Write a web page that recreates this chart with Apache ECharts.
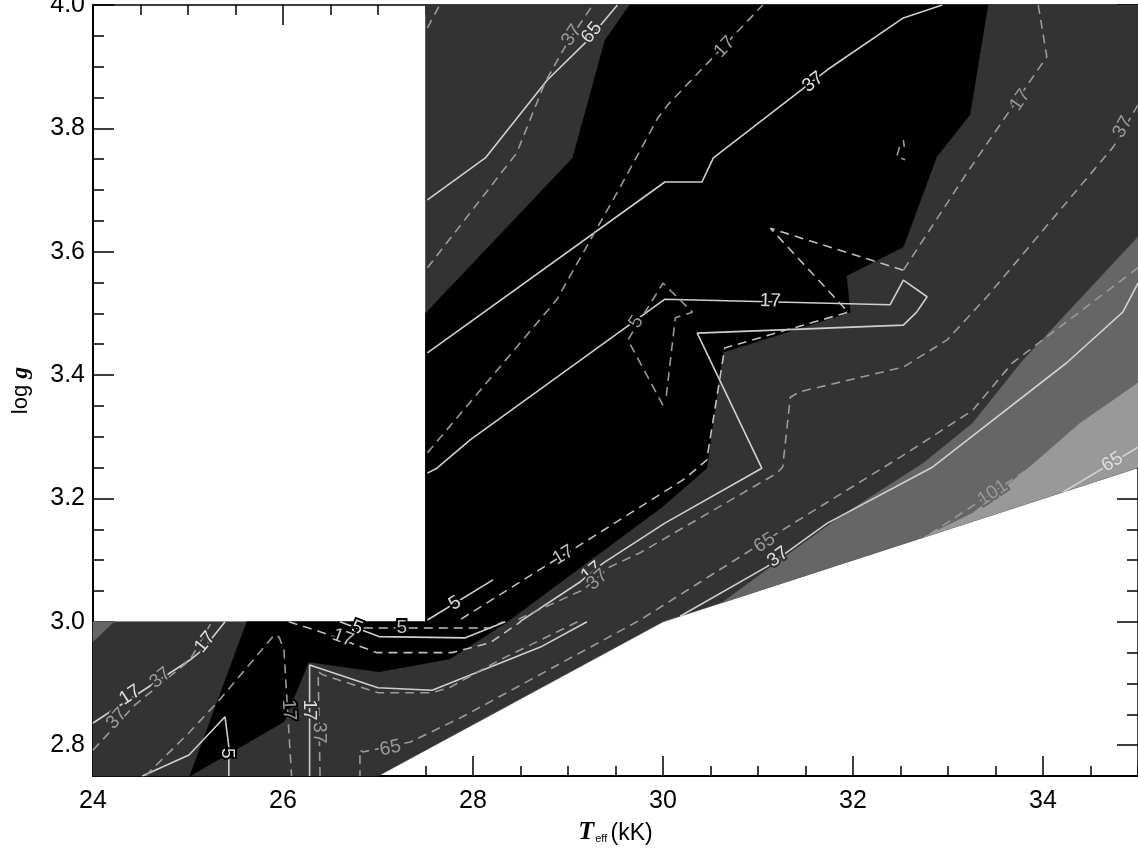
<!DOCTYPE html>
<html><head><meta charset="utf-8">
<script src="https://cdn.jsdelivr.net/npm/echarts@6/dist/echarts.min.js"></script>
<style>html,body{margin:0;padding:0;background:#fff}#c{width:1138px;height:851px}</style>
</head><body><div id="c"></div>
<script>
// ---------- axis ticks ----------
const xTicks = [24, 26, 28, 30, 32, 34];
const yTicks = [2.8, 3.0, 3.2, 3.4, 3.6, 3.8, 4.0];

// ---------- filled regions (Teff kK, log g) ----------
const domainPoly = [[24,2.75],[27.0,2.75],[30,3.0],[35,3.25],[35,4.0],[27.5,4.0],[27.5,3.0],[24,3.0]];
const cornerPoly = [[24,3.0],[24.22,3.0],[24,2.968]];
const blackPoly = [[29.65,4.0],[33.42,4.0],[33.23,3.822],[32.88,3.754],[32.53,3.608],[31.93,3.561],[31.97,3.502],
  [30.63,3.437],[30.46,3.249],[29.99,3.186],[28.36,3.0],[27.76,2.94],[27.01,2.919],[26.27,2.935],[26.01,2.838],
  [25.02,2.75],[25.62,3.0],[27.5,3.0],[27.5,3.5],[29.05,3.752],[29.39,3.943]];
const mediumPoly = [[35,3.624],[33.79,3.424],[33.26,3.322],[32.74,3.257],[31.86,3.170],[30.62,3.031],[35,3.25]];
const lightPoly = [[35,3.387],[34.39,3.322],[33.86,3.251],[33.26,3.176],[32.74,3.137],[35,3.25]];

// ---------- solid contour lines ----------
const S1 = [[27.52,3.684],[28.13,3.752],[28.78,3.878],[29.21,3.943],[29.52,4.0]];
const S2 = [[27.52,3.436],[30.02,3.713],[30.41,3.713],[30.53,3.752],[31.73,3.895],[32.53,3.979],[32.94,4.0]];
const S3 = [[27.52,3.241],[27.62,3.249],[27.97,3.295],[30.02,3.523],[32.39,3.514],[32.53,3.554],[32.78,3.527],
  [32.67,3.502],[32.53,3.481],[30.36,3.468],[31.04,3.249],[30.02,3.160],[29.37,3.095],[29.13,3.065],[28.49,3.0]];
const S4 = [[27.52,3.003],[28.21,3.068]];
const S5 = [[26.6,3.0],[27.01,2.976],[27.92,2.974],[28.34,3.0]];
const S6 = [[26.28,2.75],[26.28,2.93],[27.0,2.893],[27.57,2.889],[28.71,2.959],[29.2,3.0]];
const S7 = [[35,3.549],[34.84,3.502],[34.25,3.420],[32.84,3.251],[31.73,3.160],[31.09,3.089],[30.18,3.009]];
const S8 = [[35,3.283],[34.21,3.21]];
const S9 = [[24,2.836],[25.02,2.938],[25.15,2.954],[25.39,3.0]];
const S10 = [[24.52,2.75],[25.01,2.784],[25.39,2.846],[25.43,2.797],[25.43,2.75]];

// ---------- dashed contour lines ----------
const D1 = [[27.52,3.574],[28.46,3.760],[28.76,3.875],[28.99,3.938],[29.26,4.0]];
const D2 = [[27.52,3.274],[28.88,3.522],[29.55,3.705],[29.95,3.818],[30.05,3.838],[30.6,3.927],[31.05,4.0]];
const D3 = [[33.95,4.0],[34.04,3.916],[33.2,3.728],[32.53,3.57]];
const D4 = [[30.0,3.351],[29.63,3.457],[30.0,3.549],[30.31,3.502],[30.13,3.493],[30.03,3.36]];
const D5 = [[32.53,3.57],[31.13,3.638],[31.95,3.502],[31.23,3.470],[30.65,3.444],[30.46,3.262],[30.21,3.230],
  [29.09,3.121],[28.81,3.095],[27.86,3.003]];
const D6 = [[35,3.838],[34.74,3.770],[33.41,3.527],[32.99,3.457],[32.53,3.413],[31.44,3.373],[31.34,3.364],
  [31.26,3.251],[31.2,3.241],[29.76,3.112],[29.44,3.089],[29.16,3.052],[28.42,3.0]];
const D7 = [[29.1,3.0],[28.28,2.938],[27.76,2.894],[27.57,2.885],[27.0,2.885],[26.42,2.914],[26.37,2.919],[26.39,2.75]];
const D8 = [[35,3.574],[33.68,3.420],[33.26,3.343],[32.57,3.274],[31.26,3.149],[30.88,3.112],[29.76,3.003],
  [27.89,2.846],[27.34,2.805],[26.84,2.789],[26.81,2.792],[26.81,2.75]];
const D9 = [[26.85,2.99],[28.18,2.99],[28.32,3.0]];
const D10 = [[26.06,3.0],[26.39,2.984],[26.99,2.95],[27.78,2.95],[28.18,2.966],[28.5,3.0]];
const D11 = [[24,2.792],[24.44,2.865],[25.02,2.938],[25.25,3.0]];
const D12 = [[24.55,2.75],[25.01,2.82],[25.33,2.873],[25.91,2.979],[25.96,2.975],[26.01,2.954],[26.09,2.75]];
const D13 = [[35,3.364],[33.62,3.225],[33.31,3.193],[32.76,3.137]];
const D14 = [[27.52,3.963],[27.65,4.0]];
const D15 = [[32.53,3.781],[32.54,3.770]];
const D16 = [[32.49,3.770],[32.46,3.754],[32.55,3.749]];

// ---------- contour labels: line name, Teff, logg, text ----------
const labelLines = ['S1','S2','S3','S3','S4','S5','S6','S7','S8','S9','S9','S10',
  'D1','D2','D3','D4','D5','D6','D6','D7','D8','D8','D9','D10','D11','D11','D12','D13'];
const labelX = [29.25,31.58,31.13,29.25,27.81,26.78,26.28,31.21,34.73,24.39,25.18,25.41,
  29.04,30.65,33.76,29.72,28.95,34.84,29.31,26.38,31.07,27.13,27.25,26.63,24.25,24.71,26.06,33.47];
const labelY = [3.955,3.875,3.52,3.081,3.030,2.99,2.857,3.105,3.259,2.881,2.967,2.787,
  3.951,3.932,3.846,3.486,3.108,3.802,3.068,2.82,3.128,2.795,2.99,2.974,2.843,2.909,2.857,3.209];
const labelText = ['65','37','17','17','5','5','17','37','65','17','17','5',
  '37','17','17','5','17','37','37','37','65','65','5','17','37','37','17','101'];

// ---------- build ----------
const FONT = "'Liberation Sans', Arial, Helvetica, sans-serif";
const SERIF = "'Liberation Serif','DejaVu Serif','Times New Roman',serif";
const fills = [
  {poly: domainPoly, color: '#333333'},
  {poly: cornerPoly, color: '#666666'},
  {poly: blackPoly, color: '#000000'},
  {poly: mediumPoly, color: '#666666'},
  {poly: lightPoly, color: '#999999'}
];
const lineMap = {S1,S2,S3,S4,S5,S6,S7,S8,S9,S10,D1,D2,D3,D4,D5,D6,D7,D8,D9,D10,D11,D12,D13,D14,D15,D16};
const brightDashed = {D5:1, D9:1, D10:1};
function lineColor(name){
  if (name[0] === 'S') return '#cfcfcf';
  return brightDashed[name] ? '#c0c0c0' : '#9a9a9a';
}
function inPoly(pt, poly){
  let c = false;
  for (let i = 0, j = poly.length - 1; i < poly.length; j = i++) {
    const xi = poly[i][0], yi = poly[i][1], xj = poly[j][0], yj = poly[j][1];
    if (((yi > pt[1]) !== (yj > pt[1])) && (pt[0] < (xj - xi) * (pt[1] - yi) / (yj - yi) + xi)) c = !c;
  }
  return c;
}
function bgAt(pt){
  let col = '#ffffff';
  fills.forEach(f => { if (inPoly(pt, f.poly)) col = f.color; });
  return col;
}

const series = [];
series.push({
  type: 'custom', coordinateSystem: 'cartesian2d', xAxisIndex: 0, yAxisIndex: 0, z: 1, silent: true,
  animation: false,
  data: fills.map((f, i) => [f.poly[0][0], f.poly[0][1], i]),
  encode: {x: 0, y: 1},
  renderItem: (params, api) => {
    const f = fills[params.dataIndex];
    return {type: 'polygon', shape: {points: f.poly.map(p => api.coord(p))},
      style: {fill: f.color, stroke: f.color, lineWidth: 0.6}};
  }
});
Object.keys(lineMap).forEach(name => {
  const dashed = name[0] === 'D';
  series.push({
    type: 'line', xAxisIndex: 0, yAxisIndex: 0, data: lineMap[name], showSymbol: false, symbol: 'none',
    clip: true, z: 3, silent: true, animation: false,
    lineStyle: {color: lineColor(name), width: 1.6, type: dashed ? [9, 6] : 'solid'}
  });
});
series.push({
  type: 'custom', coordinateSystem: 'cartesian2d', xAxisIndex: 0, yAxisIndex: 0, z: 5, silent: true,
  animation: false,
  data: labelX.map((x, i) => [x, labelY[i], i]),
  encode: {x: 0, y: 1},
  renderItem: (params, api) => {
    const i = params.dataIndex;
    const name = labelLines[i];
    const pts = lineMap[name].map(p => api.coord(p));
    const p = api.coord([labelX[i], labelY[i]]);
    let best = 1e9, ang = 0;
    for (let k = 0; k < pts.length - 1; k++) {
      const a = pts[k], b = pts[k+1];
      const dx = b[0]-a[0], dy = b[1]-a[1];
      const L2 = dx*dx + dy*dy || 1;
      let t = ((p[0]-a[0])*dx + (p[1]-a[1])*dy) / L2;
      t = Math.max(0, Math.min(1, t));
      const qx = a[0]+t*dx - p[0], qy = a[1]+t*dy - p[1];
      const d = qx*qx + qy*qy;
      if (d < best) { best = d; ang = Math.atan2(-dy, dx); }
    }
    if (ang >= Math.PI/2 - 1e-6) ang -= Math.PI;
    if (ang < -Math.PI/2 - 1e-6) ang += Math.PI;
    const solid = name[0] === 'S';
    return {type: 'text', x: p[0], y: p[1], rotation: ang,
      style: {text: labelText[i], fill: solid ? '#dedede' : (brightDashed[name] ? '#c0c0c0' : '#9a9a9a'),
        font: '19px ' + FONT, align: 'center', verticalAlign: 'middle',
        stroke: bgAt([labelX[i], labelY[i]]), lineWidth: 4, strokeFirst: true}};
  }
});

const axLine = (w) => ({show: true, onZero: false, lineStyle: {color: '#000', width: w}});
const majorTick = (len, vals) => ({show: true, inside: true, length: len, customValues: vals, lineStyle: {color: '#000', width: 1.5}});
const minorTickAx = (len) => ({show: true, inside: true, length: len, lineStyle: {color: '#000', width: 1.5}});
const noSplit = {show: false};

const option = {
  backgroundColor: '#ffffff',
  animation: false,
  grid: {left: 93, right: 0, top: 5, bottom: 75, containLabel: false, outerBoundsMode: 'none'},
  xAxis: [
    {type: 'value', min: 24, max: 35, position: 'bottom', axisLine: axLine(2), axisTick: majorTick(20, xTicks),
      axisLabel: {customValues: xTicks, fontSize: 25, fontFamily: FONT, color: '#000', margin: 13, formatter: v => String(v)},
      splitLine: noSplit,
      name: '{t|T}{s|eff} {u|(kK)}', nameLocation: 'middle', nameGap: 37,
      nameTextStyle: {rich: {
        t: {fontFamily: SERIF, fontWeight: 'bold', fontStyle: 'italic', fontSize: 26, color: '#000', lineHeight: 28, verticalAlign: 'bottom'},
        s: {fontFamily: FONT, fontSize: 11, color: '#000', lineHeight: 11, verticalAlign: 'bottom', padding: [0,0,0,1]},
        u: {fontFamily: FONT, fontSize: 23, color: '#000', lineHeight: 28, verticalAlign: 'bottom'}
      }}},
    {type: 'value', min: 24, max: 35, interval: 0.5, position: 'bottom', axisLine: {show: false}, axisTick: minorTickAx(10),
      axisLabel: {show: false}, splitLine: noSplit},
    {type: 'value', min: 24, max: 35, position: 'top', axisLine: axLine(1.5), axisTick: majorTick(20, xTicks),
      axisLabel: {show: false}, splitLine: noSplit},
    {type: 'value', min: 24, max: 35, interval: 0.5, position: 'top', axisLine: {show: false}, axisTick: minorTickAx(10),
      axisLabel: {show: false}, splitLine: noSplit}
  ],
  yAxis: [
    {type: 'value', min: 2.75, max: 4.0, position: 'left', axisLine: axLine(2), axisTick: majorTick(21, yTicks),
      axisLabel: {customValues: yTicks, fontSize: 25, fontFamily: FONT, color: '#000', margin: 8, formatter: v => v.toFixed(1)},
      splitLine: noSplit,
      name: '{n|log }{g|g}', nameLocation: 'middle', nameRotate: 90, nameGap: 60,
      nameTextStyle: {rich: {
        n: {fontFamily: FONT, fontSize: 22, color: '#000'},
        g: {fontFamily: SERIF, fontWeight: 'bold', fontStyle: 'italic', fontSize: 24, color: '#000'}
      }}},
    {type: 'value', min: 2.75, max: 4.0, interval: 0.05, position: 'left', axisLine: {show: false}, axisTick: minorTickAx(11),
      axisLabel: {show: false}, splitLine: noSplit},
    {type: 'value', min: 2.75, max: 4.0, position: 'right', axisLine: axLine(1.5), axisTick: majorTick(21, yTicks),
      axisLabel: {show: false}, splitLine: noSplit},
    {type: 'value', min: 2.75, max: 4.0, interval: 0.05, position: 'right', axisLine: {show: false}, axisTick: minorTickAx(11),
      axisLabel: {show: false}, splitLine: noSplit}
  ],
  series: series
};
const chart = echarts.init(document.getElementById('c'));
chart.setOption(option);
</script>
</body></html>
